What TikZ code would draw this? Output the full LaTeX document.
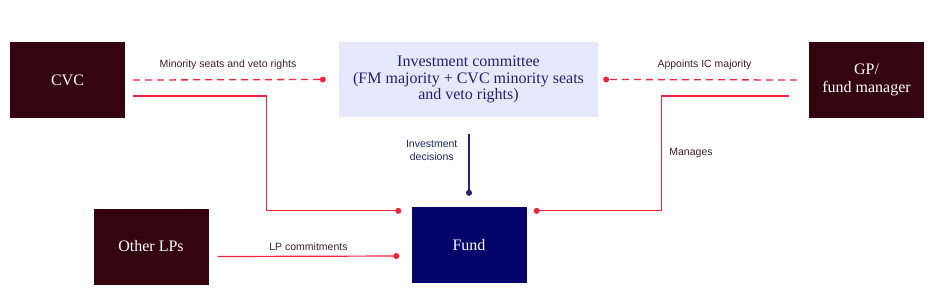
\documentclass[tikz,border=0pt]{standalone}
\usepackage{fontspec}
\setmainfont{Liberation Serif}
\setsansfont{Liberation Sans}
\usetikzlibrary{arrows.meta,calc}

\definecolor{maroonbox}{HTML}{34050F}
\definecolor{navybox}{HTML}{04046B}
\definecolor{linkred}{HTML}{F0243F}
\definecolor{icfill}{HTML}{E5E9FB}
\definecolor{icnavy}{HTML}{1F2370}
\definecolor{labeltext}{HTML}{3D1F28}

\tikzset{
  party/.style={fill=maroonbox,text=white,minimum width=115pt,minimum height=76pt,
    inner sep=0pt,align=center,font=\fontsize{16}{17.5}\selectfont},
  fundbox/.style={party,fill=navybox},
  committee/.style={fill=icfill,text=icnavy,minimum width=259pt,minimum height=75pt,
    inner sep=0pt,align=center,font=\fontsize{16}{16.5}\selectfont},
  link/.style={draw=linkred,line width=1.2pt,-{Circle[length=6pt,fill=linkred]}},
  dashlink/.style={draw=linkred,line width=1.3pt,dash pattern=on 7pt off 5pt},
  dot/.style={circle,fill=linkred,inner sep=0pt,minimum size=6pt},
  decision/.style={draw=icnavy,line width=1.2pt,-{Circle[length=6pt,fill=icnavy]}},
  lbl/.style={text=labeltext,font=\sffamily\fontsize{10.5}{13}\selectfont,inner sep=2pt}
}

\begin{document}
\begin{tikzpicture}[x=1pt,y=-1pt]
  \useasboundingbox (0,0) rectangle (936,293);

  \node[party] (CVC) at (67.5,80) {CVC};
  \node[committee] (IC) at (468.5,79.5) {Investment committee\\(FM majority + CVC minority seats\\and veto rights)};
  \node[party] (GP) at (866.5,80) {GP/\\fund manager};
  \node[party] (LPs) at (151,246.5) {Other LPs};
  \node[fundbox] (Fund) at (469,245) {Fund};

  % dashed links into the committee
  \node[dot] (dotSeats) at ($(IC.west)+(-16,0)$) {};
  \node[dot] (dotAppoints) at ($(IC.east)+(8,0)$) {};
  \draw[dashlink] ($(CVC.east)+(8,0)$) -- (dotSeats.center);
  \draw[dashlink] ($(GP.west)+(-12,0)$) -- (dotAppoints.center);
  \node[lbl] (lblSeats) at ($(CVC.east)!0.5!(dotSeats)+(4,-15)$) {Minority seats and veto rights};
  \node[lbl] (lblAppoints) at ($(GP.west)!0.5!(dotAppoints)+(-3,-15)$) {Appoints IC majority};

  \draw[link] ($(CVC.east)+(8,16)$) -- ++(133,0) |- ($(Fund.north west)+(-10,4)$);
  \draw[link] ($(GP.west)+(-20,16)$) -- ++(-127,0)
    |- node[lbl,pos=0.25,right=5pt] (lblManages) {Manages} ($(Fund.north east)+(7,4)$);
  \draw[link] ($(LPs.east)+(9,10)$) -- node[lbl,above=3pt] (lblCommit) {LP commitments} ($(Fund.west)+(-12,11)$);

  \draw[decision] (Fund.north |- {$(IC.south)+(0,17)$})
    -- node[lbl,text=icnavy,align=center,pos=0.27,left=9pt] (lblDecisions) {Investment\\decisions} ($(Fund.north)+(0,-11)$);
\end{tikzpicture}
\end{document}
